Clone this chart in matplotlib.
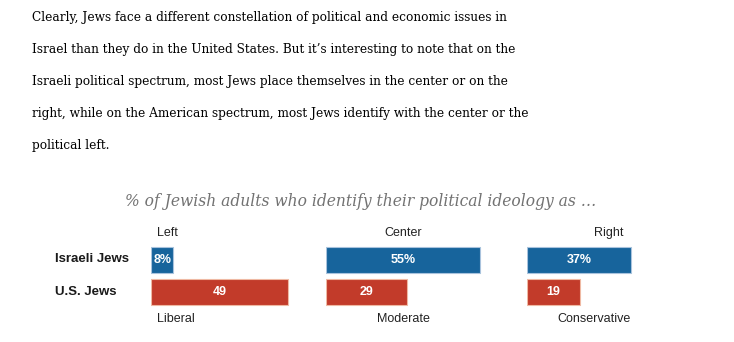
import matplotlib
matplotlib.use('Agg')
import matplotlib.pyplot as plt
from matplotlib import font_manager

# --- data ---
groups = ['Israeli Jews', 'U.S. Jews']
israel_cats = ['Left', 'Center', 'Right']
us_cats = ['Liberal', 'Moderate', 'Conservative']
israel_vals = [8, 55, 37]
us_vals = [49, 29, 19]

paragraph = [
    "Clearly, Jews face a different constellation of political and economic issues in",
    "Israel than they do in the United States. But it\u2019s interesting to note that on the",
    "Israeli political spectrum, most Jews place themselves in the center or on the",
    "right, while on the American spectrum, most Jews identify with the center or the",
    "political left.",
]
subtitle = "% of Jewish adults who identify their political ideology as \u2026"

BLUE = '#17649c'
RED = '#c23b2a'
BLUE_EDGE = '#a9c3dd'
RED_EDGE = '#efb9a3'

W, H = 734, 342
fig = plt.figure(figsize=(W / 100, H / 100), dpi=100, facecolor='white')

# condensed serif for the body paragraph if it exists
names = {(f.name, f.stretch) for f in font_manager.fontManager.ttflist}
if ('DejaVu Serif', 'condensed') in names or ('DejaVu Serif', 'semi-condensed') in names:
    para_kw = dict(family='DejaVu Serif', stretch='condensed', fontsize=9.7)
else:
    para_kw = dict(family='Liberation Serif', fontsize=10.5)

for i, line in enumerate(paragraph):
    fig.text(32 / W, 1 - (17 + 32 * i) / H, line, ha='left', va='center',
             color='#000000', **para_kw)

fig.text(361 / W, 1 - 201 / H, subtitle, ha='center', va='center',
         family='DejaVu Serif', style='italic', fontsize=11.2, color='#727272')

SANS = 'Liberation Sans'
px_per_unit = 2.8
panel_x = [151, 326, 527]
panel_w = 190
top_ha = ['left', 'center', 'right']

for k in range(3):
    ax = fig.add_axes([panel_x[k] / W, (H - 308) / H, panel_w / W, 64 / H])
    ax.set_xlim(0, panel_w / px_per_unit)
    ax.set_ylim(1.5, -0.5)
    ax.axis('off')
    vals = [israel_vals[k], us_vals[k]]
    ax.barh([0, 1], vals, height=0.81, left=0,
            color=[BLUE, RED], edgecolor=[BLUE_EDGE, RED_EDGE], linewidth=0.8)
    for row, v in enumerate(vals):
        lab = f'{v}%' if row == 0 else f'{v}'
        ax.text(v / 2, row, lab, ha='center', va='center', color='white',
                fontsize=9, fontweight='bold', family=SANS)
    # category labels above and below
    if top_ha[k] == 'left':
        xl, xb = 2, 2
    elif top_ha[k] == 'center':
        xl = xb = israel_vals[k] / 2
    else:
        xl = israel_vals[k] - 2.5
        xb = israel_vals[k]
    ax.text(xl, -0.85, israel_cats[k], ha=top_ha[k], va='center',
            fontsize=9, family=SANS, color='#222222')
    ax.text(xb, 1.85, us_cats[k], ha=top_ha[k], va='center',
            fontsize=9, family=SANS, color='#222222')

for row, g in enumerate(groups):
    fig.text(55 / W, 1 - (259 + 33 * row) / H, g, ha='left', va='center',
             fontsize=9.5, fontweight='bold', family=SANS, color='#1a1a1a')

fig.savefig('out.png', dpi=100, facecolor='white')
